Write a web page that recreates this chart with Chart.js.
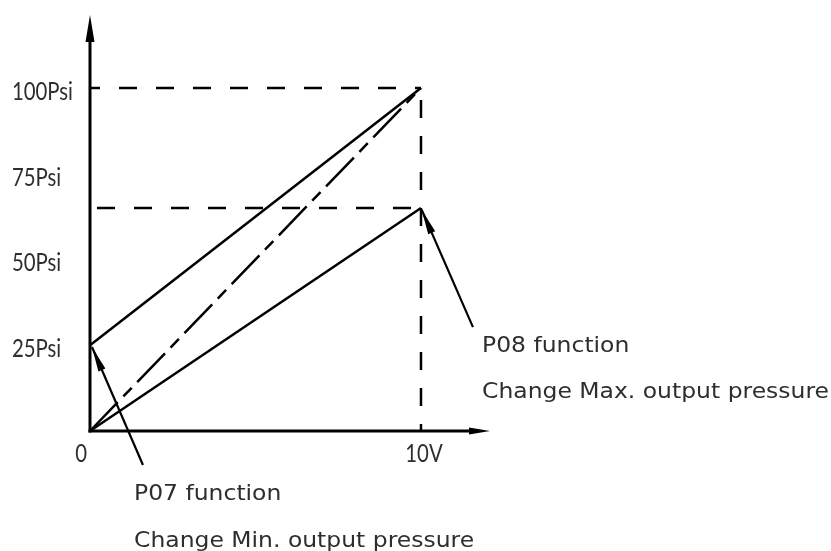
<!DOCTYPE html>
<html>
<head>
<meta charset="utf-8">
<script src="https://cdn.jsdelivr.net/npm/chart.js@4/dist/chart.umd.min.js"></script>
<style>
  html, body { margin: 0; padding: 0; background: #ffffff; }
  #wrap { width: 831px; height: 551px; }
</style>
</head>
<body>
<div id="wrap"><canvas id="c" width="831" height="551"></canvas></div>
<script>
// ---- data ----
const voltage = [0, 10];                 // x: control voltage (V)
const minAdjusted = [25, 100];           // P07: min output pressure raised to 25 Psi
const reference = [0, 100];              // default 0..10 V -> 0..100 Psi (dash-dot)
const maxAdjusted = [0, 65];             // P08: max output pressure lowered to ~65 Psi
const guideTop = [100, 100];             // dashed guide at 100 Psi
const guideMax = [65, 65];               // dashed guide at ~65 Psi
const guideVertical = [100, 0];          // dashed guide at 10 V
const yTickValues = [100, 75, 50, 25];
const yTickLabels = ['100Psi', '75Psi', '50Psi', '25Psi'];
const xTickValues = [0, 10];
const xTickLabels = ['0', '10V'];
const noteP08 = ['P08 function', 'Change Max. output pressure'];
const noteP07 = ['P07 function', 'Change Min. output pressure'];

const pts = (xs, ys) => xs.map((x, i) => ({ x: x, y: ys[i] }));

const INK = '#000000';
const TEXT = '#2e2e2e';

const drawArrowHead = (ctx, x1, y1, x2, y2, len, halfW) => {
  const a = Math.atan2(y2 - y1, x2 - x1);
  ctx.beginPath();
  ctx.moveTo(x2, y2);
  ctx.lineTo(x2 - len * Math.cos(a) + halfW * Math.sin(a), y2 - len * Math.sin(a) - halfW * Math.cos(a));
  ctx.lineTo(x2 - len * Math.cos(a) - halfW * Math.sin(a), y2 - len * Math.sin(a) + halfW * Math.cos(a));
  ctx.closePath();
  ctx.fill();
};

const decor = {
  id: 'decor',
  afterDatasetsDraw(chart) {
    const ctx = chart.ctx;
    const xs = chart.scales.x, ys = chart.scales.y;
    const ox = xs.getPixelForValue(0), oy = ys.getPixelForValue(0);
    const ca = chart.chartArea;
    ctx.save();
    ctx.strokeStyle = INK; ctx.fillStyle = INK;
    ctx.lineWidth = 3; ctx.setLineDash([]);
    // y axis with arrow
    ctx.beginPath(); ctx.moveTo(ox, oy + 1.5); ctx.lineTo(ox, ca.top + 20); ctx.stroke();
    drawArrowHead(ctx, ox, oy, ox, ca.top, 27, 4.5);
    // x axis with arrow
    ctx.beginPath(); ctx.moveTo(ox - 1.5, oy); ctx.lineTo(ca.right - 15, oy); ctx.stroke();
    drawArrowHead(ctx, ox, oy, ca.right, oy, 21, 3.5);

    // annotation arrows
    ctx.lineWidth = 2.2;
    const arrow = (tx, ty, hx, hy) => {
      const x1 = xs.getPixelForValue(tx), y1 = ys.getPixelForValue(ty);
      const x2 = xs.getPixelForValue(hx), y2 = ys.getPixelForValue(hy);
      ctx.beginPath(); ctx.moveTo(x1, y1); ctx.lineTo(x2, y2); ctx.stroke();
      drawArrowHead(ctx, x1, y1, x2, y2, 25, 3.8);
    };
    arrow(1.6, -9.9, 0.06, 24.5);
    arrow(11.57, 30.3, 10.02, 64.5);

    // tick labels (condensed look)
    ctx.fillStyle = TEXT;
    ctx.textBaseline = 'alphabetic';
    ctx.font = '25px Lato';
    const tickScale = 61 / ctx.measureText('100Psi').width;
    yTickValues.forEach((v, i) => {
      const y = ys.getPixelForValue(v) + 12;
      ctx.save(); ctx.translate(12, y); ctx.scale(tickScale, 1);
      ctx.textAlign = 'left'; ctx.fillText(yTickLabels[i], 0, 0);
      ctx.restore();
    });
    xTickValues.forEach((v, i) => {
      const px = xs.getPixelForValue(v);
      ctx.save();
      if (v === 0) { ctx.translate(px - 3, oy + 31); ctx.scale(tickScale, 1); ctx.textAlign = 'right'; }
      else { ctx.translate(px + 3, oy + 31); ctx.scale(tickScale, 1); ctx.textAlign = 'center'; }
      ctx.fillText(xTickLabels[i], 0, 0);
      ctx.restore();
    });

    // annotation text
    ctx.font = '22px "DejaVu Sans"';
    const noteScale = 347 / ctx.measureText(noteP08[1]).width;
    const note = (lines, x, y0, gap) => {
      lines.forEach((t, i) => {
        ctx.save(); ctx.translate(x, y0 + i * gap); ctx.scale(noteScale, 1);
        ctx.textAlign = 'left'; ctx.fillText(t, 0, 0); ctx.restore();
      });
    };
    note(noteP08, 482, 352, 46);
    note(noteP07, 134, 500, 47);
    ctx.restore();
  }
};

const lineDs = (data, dash, offset) => ({
  data: data, borderColor: INK, borderWidth: 2.5, pointRadius: 0,
  borderDash: dash || [], borderDashOffset: offset || 0,
  fill: false, tension: 0, clip: false
});

new Chart(document.getElementById('c'), {
  type: 'line',
  data: {
    datasets: [
      lineDs(pts(voltage, minAdjusted)),
      lineDs(pts(voltage, reference), [40, 8, 12, 8], 0),
      lineDs(pts(voltage, maxAdjusted)),
      lineDs(pts(voltage, guideTop), [18, 19], 8),
      lineDs(pts(voltage, guideMax), [18, 19], 30),
      lineDs(pts([10, 10], guideVertical), [18, 18], 24)
    ]
  },
  options: {
    responsive: false,
    animation: false,
    layout: { padding: { left: 90, top: 15, right: 341, bottom: 120 } },
    plugins: { legend: { display: false }, tooltip: { enabled: false } },
    scales: {
      x: { type: 'linear', min: 0, max: 12.085, display: false },
      y: { type: 'linear', min: 0, max: 121.28, display: false }
    }
  },
  plugins: [decor]
});
</script>
</body>
</html>
